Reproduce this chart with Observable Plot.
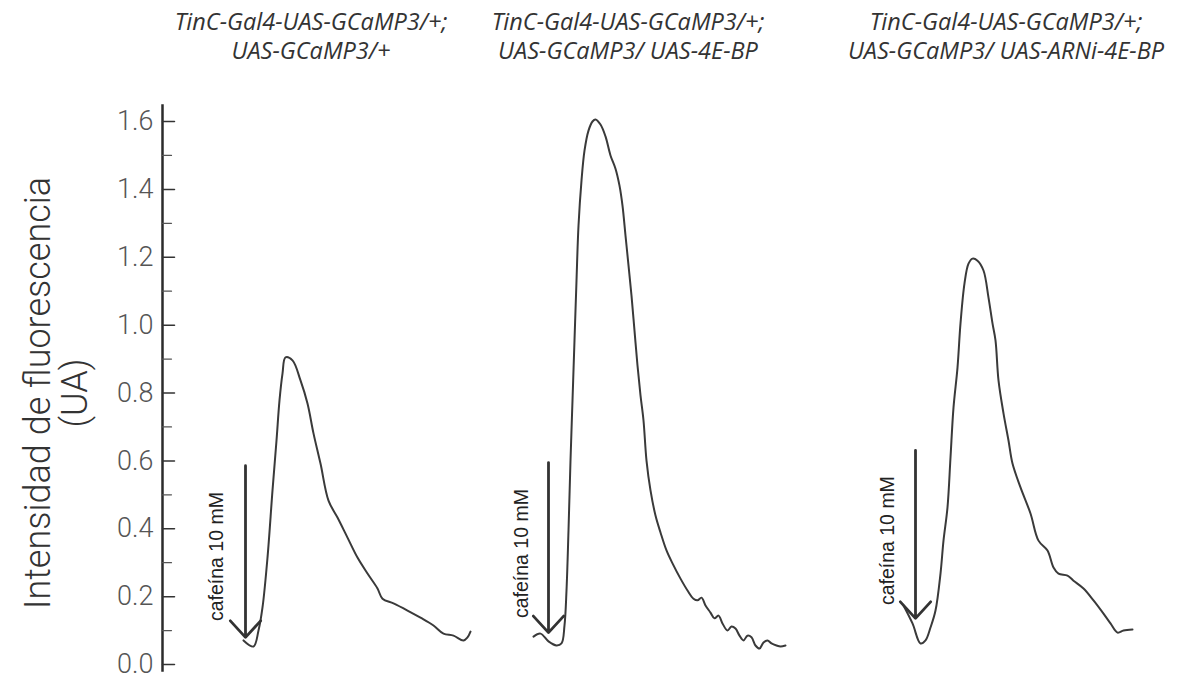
<!DOCTYPE html>
<html><head><meta charset="utf-8">
<script src="https://cdn.jsdelivr.net/npm/d3@7"></script>
<script src="https://cdn.jsdelivr.net/npm/@observablehq/plot@0.6"></script>
<style>
body{margin:0;background:#fff;}
#wrap{position:relative;width:1178px;height:680px;overflow:hidden;}
#titles{position:relative;height:70px;}
.title{position:absolute;top:7px;transform:translateX(-50%);font-family:"Open Sans";font-style:italic;font-size:23.5px;line-height:29px;color:#333;text-align:center;white-space:nowrap;}
</style></head>
<body><div id="wrap"><div id="titles"></div><div id="chart"></div></div>
<script>
// Panel titles (genotypes)
const genotypes = ["control", "4E-BP", "ARNi-4E-BP"];
const titleLine1 = ["TinC-Gal4-UAS-GCaMP3/+;", "TinC-Gal4-UAS-GCaMP3/+;", "TinC-Gal4-UAS-GCaMP3/+;"];
const titleLine2 = ["UAS-GCaMP3/+", "UAS-GCaMP3/ UAS-4E-BP", "UAS-GCaMP3/ UAS-ARNi-4E-BP"];

// Y axis
const yTicks = [0, 0.2, 0.4, 0.6, 0.8, 1.0, 1.2, 1.4, 1.6];
const yMinorTicks = [0.1, 0.3, 0.5, 0.7, 0.9, 1.1, 1.3, 1.5];
const yLabel = "Intensidad de fluorescencia\n(UA)";

// Trace 1: control
const t1 = [81,91,96,100,105,110,114,117,120,123,130,138,145,151,158,166,175,185,195,205,215,220,231,245,258,271,281,291,301,305,308];
const v1 = [0.071,0.053,0.100,0.168,0.315,0.513,0.660,0.778,0.857,0.905,0.896,0.837,0.769,0.681,0.592,0.483,0.433,0.374,0.315,0.268,0.224,0.194,0.180,0.159,0.138,0.115,0.091,0.085,0.071,0.080,0.097];

// Trace 2: UAS-4E-BP
const t2 = [371,378,386,394,399,402,404,406,408,410,412,414,416,419,422,426,430,433,438,443,448,453,457,460,463,466,469,472,475,478,481,484,488,493,498,504,510,518,525,531,535,539,543,548,552,556,560,565,569,573,577,581,585,589,593,597,601,605,609,614,618,623];
const v2 = [0.082,0.091,0.068,0.056,0.062,0.115,0.218,0.395,0.601,0.778,0.955,1.131,1.293,1.426,1.514,1.573,1.600,1.606,1.591,1.556,1.500,1.461,1.411,1.352,1.264,1.176,1.087,0.984,0.881,0.793,0.719,0.601,0.513,0.439,0.389,0.336,0.298,0.253,0.218,0.194,0.189,0.197,0.174,0.153,0.136,0.144,0.121,0.100,0.112,0.106,0.085,0.071,0.085,0.080,0.056,0.047,0.065,0.071,0.062,0.056,0.053,0.056];

// Trace 3: UAS-ARNi-4E-BP
const t3 = [741,750,758,763,768,773,778,781,785,788,791,795,798,802,806,810,815,821,826,830,833,836,841,846,850,858,868,876,885,891,896,905,911,921,931,941,948,955,961,970];
const v3 = [0.174,0.121,0.062,0.071,0.109,0.159,0.268,0.365,0.463,0.610,0.757,0.875,1.005,1.123,1.181,1.196,1.190,1.161,1.081,1.005,0.955,0.837,0.740,0.660,0.592,0.522,0.445,0.365,0.336,0.286,0.268,0.262,0.247,0.224,0.189,0.150,0.121,0.094,0.100,0.103];

// Caffeine application arrows and labels
const arrowT = [83, 386, 753];
const arrowTop = [0.586, 0.595, 0.631];
const arrowTip = [0.080, 0.094, 0.136];
const labelT = [54, 359, 725];
const labelV = [0.318, 0.327, 0.365];
const stimulusLabel = "cafeína 10 mM";

// Build tables
const traces = [[t1, v1], [t2, v2], [t3, v3]].flatMap(([ts, vs], i) =>
  ts.map((t, j) => ({genotype: genotypes[i], t, v: vs[j]})));
const arrows = genotypes.map((g, i) => ({genotype: g, t: arrowT[i], top: arrowTop[i], tip: arrowTip[i]}));
const labels = genotypes.map((g, i) => ({genotype: g, t: labelT[i], v: labelV[i], text: stimulusLabel}));

// tick drawn to the right of the axis line
const tickShape = {draw(context, l) { context.moveTo(0, 0); context.lineTo(0, -l); }};

const plot = Plot.plot({
  width: 1178, height: 610,
  marginLeft: 162, marginRight: 0, marginTop: 51, marginBottom: 16,
  x: {domain: [0, 1016], axis: null},
  y: {domain: [0, 1.6], axis: null},
  style: {background: "#fff", overflow: "visible"},
  marks: [
    Plot.frame({anchor: "left", stroke: "#2b2b2b", strokeWidth: 2.5, insetTop: -16, insetBottom: -6}),
    Plot.axisY({ticks: yTicks, tickSize: 0, tickPadding: 9, tickFormat: d => d.toFixed(1), fontSize: 27, fontFamily: "Roboto", fontWeight: 300, fill: "#555", label: null}),
    Plot.vector(yTicks, {y: d => d, frameAnchor: "left", rotate: 90, length: 12, anchor: "start", shape: tickShape, stroke: "#333", strokeWidth: 1.5}),
    Plot.vector(yMinorTicks, {y: d => d, frameAnchor: "left", rotate: 90, length: 9, anchor: "start", shape: tickShape, stroke: "#555", strokeWidth: 1.2}),
    Plot.text([yLabel], {frameAnchor: "left", rotate: -90, dx: -106, fontSize: 36, lineHeight: 1.03, fontFamily: "Roboto", fontWeight: 300, fill: "#333", textAnchor: "middle", lineAnchor: "middle"}),
    Plot.line(traces, {x: "t", y: "v", z: "genotype", stroke: "#3a3a3a", strokeWidth: 2, curve: "catmull-rom"}),
    Plot.arrow(arrows, {x1: "t", x2: "t", y1: "top", y2: "tip", headAngle: 85, headLength: 12, stroke: "#333", strokeWidth: 2.8}),
    Plot.text(labels, {x: "t", y: "v", text: "text", rotate: -90, fontSize: 19.5, fontFamily: "Liberation Sans", fill: "#222"})
  ]
});
document.getElementById("chart").appendChild(plot);

// Titles placed over each trace
const titleCenters = [311, 628, 1006];
const titlesDiv = document.getElementById("titles");
titleLine1.forEach((l1, i) => {
  const d = document.createElement("div");
  d.className = "title";
  d.style.left = titleCenters[i] + "px";
  d.innerHTML = l1 + "<br>" + titleLine2[i];
  titlesDiv.appendChild(d);
});
</script>
</body></html>
